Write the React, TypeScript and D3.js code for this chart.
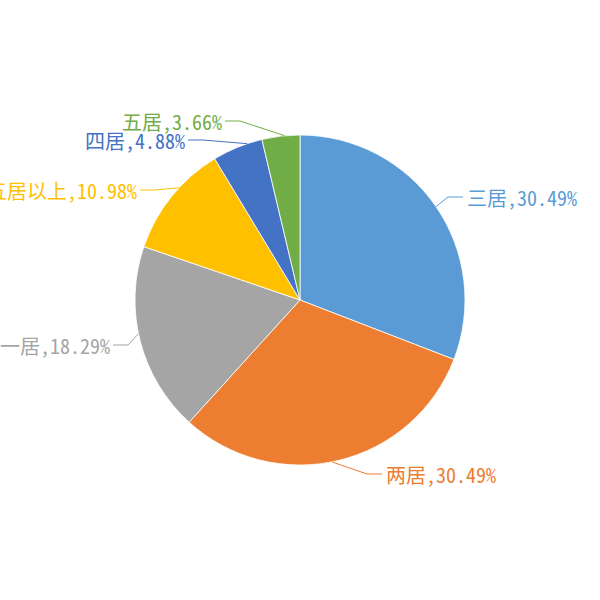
import React from 'react';
import * as d3 from 'd3';

// 户型占比
const categories = ['三居', '两居', '一居', '五居以上', '四居', '五居'];
const shares = [30.49, 30.49, 18.29, 10.98, 4.88, 3.66];
const colors = ['#5B9BD5', '#ED7D31', '#A5A5A5', '#FFC000', '#4472C4', '#70AD47'];

// label layout: where the leader leaves the slice (0..1 along its arc) and the elbow offset from center
const labelLayout = [
  { t: 0.5, elbow: [148, -103] },
  { t: 0.52, elbow: [67, 174] },
  { t: 0.54, elbow: [-172, 45] },
  { t: 0.6, elbow: [-145, -110] },
  { t: 0.7, elbow: [-97, -160] },
  { t: 0.6, elbow: [-60, -179] },
];

const width = 600;
const height = 600;
const cx = 300;
const cy = 300;
const radius = 165;
const tail = 15;

const App: React.FC = () => {
  const pie = d3
    .pie<number>()
    .sort(null)
    .value((d) => d);
  const arcs = pie(shares);
  const arc = d3.arc<d3.PieArcDatum<number>>().innerRadius(0).outerRadius(radius);

  return (
    <svg
      width={width}
      height={height}
      style={{ position: 'absolute', left: 0, top: 0, background: '#fff' }}
    >
      <g transform={`translate(${cx},${cy})`}>
        {arcs.map((a, i) => (
          <path key={i} d={arc(a) || ''} fill={colors[i]} stroke="#fff" strokeWidth={0.8} />
        ))}
        {arcs.map((a, i) => {
          const lay = labelLayout[i];
          const ang = a.startAngle + (a.endAngle - a.startAngle) * lay.t;
          const sx = radius * Math.sin(ang);
          const sy = -radius * Math.cos(ang);
          const [ex, ey] = lay.elbow;
          const right = ex > 0;
          const tx = right ? ex + tail : ex - tail;
          return (
            <g key={i}>
              <polyline
                points={`${sx},${sy} ${ex},${ey} ${tx},${ey}`}
                fill="none"
                stroke={colors[i]}
                strokeWidth={1}
              />
              <text
                x={right ? tx + 4 : tx - 3}
                y={ey + 9}
                textAnchor={right ? 'start' : 'end'}
                fill={colors[i]}
                fontSize={20}
                fontWeight={300}
                fontFamily="'Noto Sans Mono CJK SC', 'Noto Sans CJK SC', 'DejaVu Sans Mono', monospace"
              >
                {`${categories[i]},${shares[i].toFixed(2)}%`}
              </text>
            </g>
          );
        })}
      </g>
    </svg>
  );
};

export default App;
